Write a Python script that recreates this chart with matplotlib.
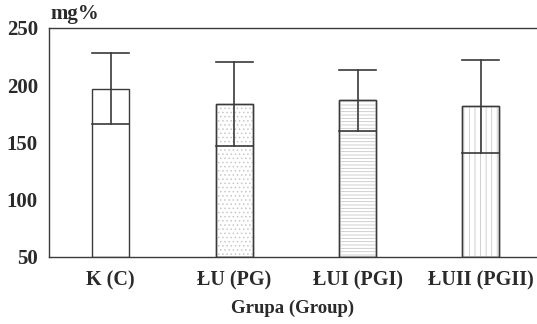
import matplotlib.pyplot as plt
import numpy as np

# dane
grupy = ["K (C)", "ŁU (PG)", "ŁUI (PGI)", "ŁUII (PGII)"]
srednia = [196.5, 183.5, 187.0, 181.5]
dolna = [166.0, 147.0, 160.0, 140.5]
gorna = [228.0, 220.5, 213.5, 222.0]
wzory = ["", "....", "-----", "|||"]

plt.rcParams['font.family'] = ['Liberation Serif', 'DejaVu Serif']
plt.rcParams['font.weight'] = 'bold'
plt.rcParams['hatch.linewidth'] = 0.6

kolor = "#3a3a3a"
tekst = "#2a2a2a"
fig = plt.figure(figsize=(5.37, 3.24), dpi=100)
ax = fig.add_axes([0.0912, 0.2068, 0.909, 0.7068])

x = np.arange(len(grupy))
baza = 50
for i in range(len(grupy)):
    ax.bar(x[i], srednia[i] - baza, bottom=baza, width=0.3, facecolor="white",
           edgecolor=kolor, linewidth=1.0, zorder=2)
    if wzory[i]:
        ax.bar(x[i], srednia[i] - baza, bottom=baza, width=0.3, facecolor="none",
               edgecolor="#c8c8c8", hatch=wzory[i], linewidth=0, zorder=2)
        ax.bar(x[i], srednia[i] - baza, bottom=baza, width=0.3, facecolor="none",
               edgecolor=kolor, linewidth=1.0, zorder=3)
    ax.plot([x[i] - 0.15, x[i] + 0.15], [dolna[i], dolna[i]], color=kolor, lw=1.2, zorder=4)
    ax.plot([x[i], x[i]], [dolna[i], gorna[i]], color=kolor, lw=1.2, zorder=4)
    ax.plot([x[i] - 0.15, x[i] + 0.15], [gorna[i], gorna[i]], color=kolor, lw=1.2, zorder=4)

ax.set_xlim(-0.5, 3.455)
ax.set_ylim(50, 250)
ax.set_yticks([50, 100, 150, 200, 250])
ax.set_xticks(x)
ax.set_xticklabels(grupy)
ax.tick_params(axis='y', length=0, labelsize=15, colors=tekst, pad=8)
ax.tick_params(axis='x', length=0, labelsize=14.5, colors=tekst, pad=10)
for s in ["left", "top", "bottom"]:
    ax.spines[s].set_color(kolor)
    ax.spines[s].set_linewidth(1.0)
ax.spines["right"].set_visible(False)

ax.set_xlabel("Grupa (Group)", fontsize=13.5, color=tekst, fontweight="bold", labelpad=6)
fig.text(0.093, 0.958, "mg%", fontsize=15, color=tekst, ha="left", va="center")

fig.savefig("out.png", dpi=100)
